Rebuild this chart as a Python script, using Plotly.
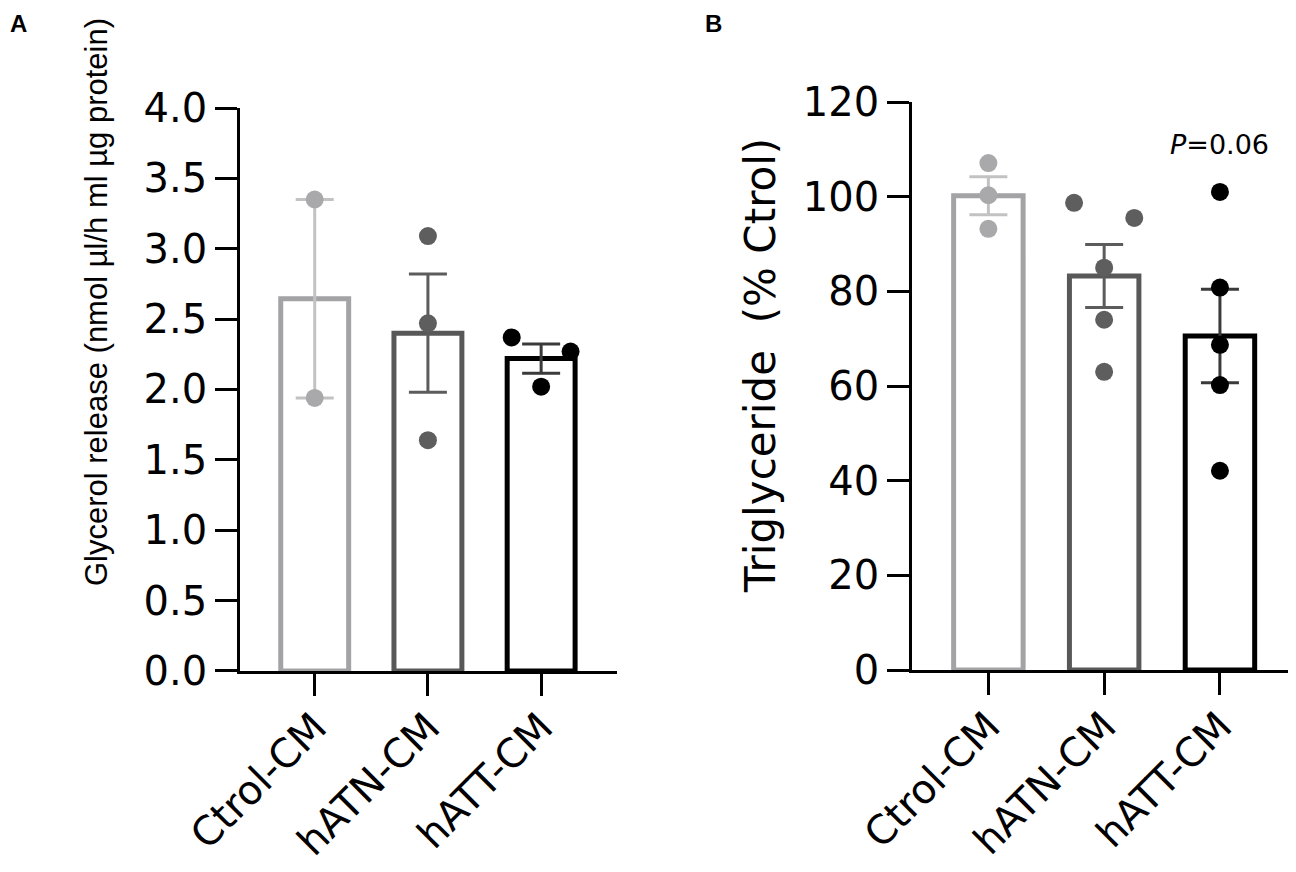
import numpy as np
import plotly.graph_objects as go

# 그룹 이름
groups = ['Ctrol-CM', 'hATN-CM', 'hATT-CM']

# 패널 A: glycerol release (개별 측정값)
glycerol_ctrol = [3.35, 1.94]
glycerol_hatn = [3.09, 2.47, 1.64]
glycerol_hatt = [2.37, 2.27, 2.02]

# 패널 B: triglyceride (% Ctrol)
tg_ctrol = [107.1, 100.3, 93.2]
tg_hatn = [98.7, 95.5, 85.0, 74.0, 63.0]
tg_hatt = [101.0, 80.8, 68.7, 60.2, 42.1]

y_ticks_a = [0, 0.5, 1.0, 1.5, 2.0, 2.5, 3.0, 3.5, 4.0]
y_ticks_b = [0, 20, 40, 60, 80, 100, 120]

# 스타일
outline = ['#a3a3a5', '#585858', '#000000']
err_col = ['#c2c2c2', '#5c5c5c', '#3a3a3a']
dot_col = ['#a9a9ab', '#5e5e5e', '#000000']
FONT = 'DejaVu Sans'


def swarm(vals, thr, off=0.26):
    # 겹치는 점만 좌우로 벌림 (GraphPad 스타일)
    order = np.argsort(vals)[::-1]
    xs = np.zeros(len(vals))
    used = set()
    for a, b in zip(order[:-1], order[1:]):
        if a in used or b in used:
            continue
        if vals[a] - vals[b] < thr:
            xs[a], xs[b] = -off, off
            used.update([a, b])
    return xs


fig = go.Figure()


def add_panel(data, xref, yref, span):
    for i, vals in enumerate(data):
        v = np.array(vals, dtype=float)
        mean = v.mean()
        sem = v.std(ddof=1) / np.sqrt(len(v))
        fig.add_trace(go.Bar(
            x=[i], y=[mean], width=0.6,
            marker=dict(color='white', line=dict(color=outline[i], width=5)),
            error_y=dict(type='data', array=[sem], visible=True,
                         color=err_col[i], thickness=3, width=19),
            xaxis=xref, yaxis=yref, showlegend=False,
        ))
        fig.add_trace(go.Scatter(
            x=i + swarm(v, span * 0.032), y=v, mode='markers',
            marker=dict(color=dot_col[i], size=18),
            xaxis=xref, yaxis=yref, showlegend=False,
        ))


add_panel([glycerol_ctrol, glycerol_hatn, glycerol_hatt], 'x', 'y', 4)
add_panel([tg_ctrol, tg_hatn, tg_hatt], 'x2', 'y2', 120)

xcommon = dict(
    tickvals=[0, 1, 2], ticktext=groups, range=[-0.66, 2.67],
    showline=True, linecolor='black', linewidth=2.5,
    ticks='outside', ticklen=22, tickwidth=2.5, tickcolor='black',
    tickangle=-45, tickfont=dict(family=FONT, size=40, color='black'),
    ticklabelstandoff=-8,
    showgrid=False, zeroline=False, automargin=False,
)
ycommon = dict(
    showline=True, linecolor='black', linewidth=2.5,
    ticks='outside', ticklen=22, tickwidth=2.5, tickcolor='black',
    tickfont=dict(family=FONT, size=40, color='black'),
    showgrid=False, zeroline=False, automargin=False,
)

fig.update_layout(
    width=1296, height=872,
    margin=dict(l=0, r=0, t=0, b=0),
    plot_bgcolor='white', paper_bgcolor='white',
    barmode='overlay',
    xaxis=dict(domain=[0.1790, 0.4699], anchor='y', **xcommon),
    yaxis=dict(domain=[0.2397, 0.8853], anchor='x', range=[0, 4],
               tickvals=y_ticks_a, tickformat='.1f', **ycommon),
    xaxis2=dict(domain=[0.6975, 0.995], anchor='y2', **xcommon),
    yaxis2=dict(domain=[0.2408, 0.8922], anchor='x2', range=[0, 120],
                tickvals=y_ticks_b, **ycommon),
)

# y축 제목 (원본처럼 축 중앙보다 위쪽에 배치)
fig.add_annotation(x=0.0679, y=0.6628, xref='paper', yref='paper',
                   text='Glycerol release (nmol µl/h ml µg protein)', textangle=-90,
                   showarrow=False, xanchor='center', yanchor='middle',
                   font=dict(family='Liberation Sans', size=31, color='black'))
fig.add_annotation(x=0.581, y=0.5906, xref='paper', yref='paper',
                   text='Triglyceride  (% Ctrol)', textangle=-90,
                   showarrow=False, xanchor='center', yanchor='middle',
                   font=dict(family=FONT, size=42, color='black'))

fig.add_annotation(x=2, y=111, xref='x2', yref='y2', text='<i>P</i>=0.06',
                   showarrow=False, font=dict(family=FONT, size=27, color='black'))
fig.add_annotation(x=0.0, y=1.0, xref='paper', yref='paper', text='<b>A</b>',
                   showarrow=False, xanchor='left', yanchor='top',
                   font=dict(family='Liberation Sans', size=24, color='black'))
fig.add_annotation(x=0.536, y=1.0, xref='paper', yref='paper', text='<b>B</b>',
                   showarrow=False, xanchor='left', yanchor='top',
                   font=dict(family='Liberation Sans', size=24, color='black'))

fig.write_html("out.html")
